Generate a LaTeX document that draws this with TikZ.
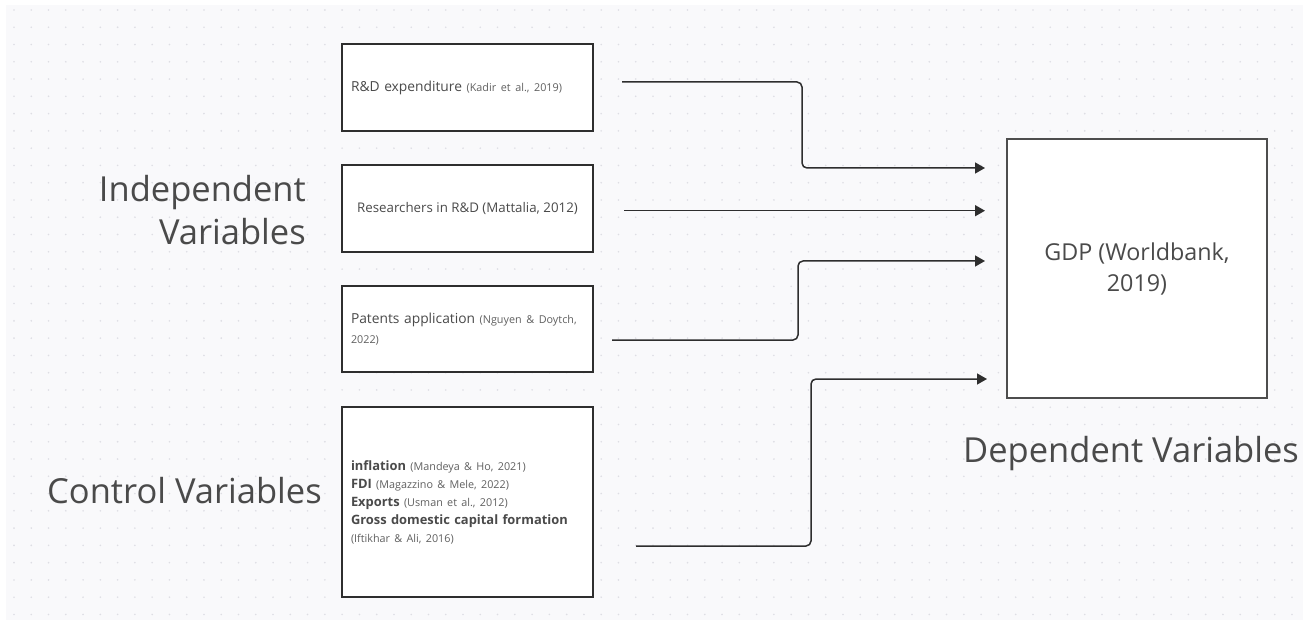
\documentclass[tikz,border=0pt]{standalone}
\usepackage{fontspec}
\setmainfont{Open Sans}
\usetikzlibrary{arrows.meta}
\definecolor{bgc}{HTML}{F9F9FB}
\definecolor{dotc}{HTML}{DEDEE4}
\definecolor{linec}{HTML}{2E2E2E}
\definecolor{txtc}{HTML}{4A4A4A}
\definecolor{boxtxt}{HTML}{4A4A4A}
\definecolor{citc}{HTML}{606060}
\tikzset{
  varbox/.style={draw=linec, line width=1.5pt, fill=white, inner sep=0pt, minimum width=251pt},
  inbox/.style={varbox, text width=233pt, align=left, text=boxtxt, font=\fontsize{13.8}{19.5}\selectfont},
  biglabel/.style={text=txtc, font=\fontsize{34.5}{43}\selectfont, inner sep=0pt},
  conn/.style={draw=linec, line width=1.5pt, rounded corners=5pt, -{Triangle[length=10pt,width=11pt]}},
}
\newcommand{\cit}[1]{{\color{citc}\fontsize{10.8}{19}\selectfont #1}}
\begin{document}
\begin{tikzpicture}[x=1pt,y=-1pt]
\useasboundingbox (0,0) rectangle (1303,620);
\fill[bgc] (6,5) rectangle (1303,620);
\foreach \i in {0,...,74} {
  \foreach \j in {0,...,35} {
    \fill[dotc] (14+17.27*\i, 10+17.27*\j) circle (0.9pt);
  }
}
% boxes
\node[inbox, minimum height=87pt] (b1) at (467.5,87.5) {R\&D expenditure \cit{(Kadir et al., 2019)}};
\node[varbox, minimum height=87pt, text=boxtxt, font=\fontsize{13.3}{19}\selectfont] (b2) at (467.5,208.5) {Researchers in R\&D (Mattalia, 2012)};
\node[inbox, minimum height=86pt] (b3) at (467.5,329) {Patents application \cit{(Nguyen \& Doytch,}\\ \cit{2022)}};
\node[inbox, minimum height=190pt, font=\fontsize{12.9}{18}\selectfont] (b4) at (467.5,502) {\textbf{inflation} \cit{(Mandeya \& Ho, 2021)}\\
\textbf{FDI} \cit{(Magazzino \& Mele, 2022)}\\
\textbf{Exports} \cit{(Usman et al., 2012)}\\
\textbf{Gross domestic capital formation}\\
\cit{(Iftikhar \& Ali, 2016)}};
\node[draw=linec!85, line width=1.8pt, fill=white, minimum width=260pt, minimum height=259pt, inner sep=0pt, align=center, text=txtc, font=\fontsize{23.3}{31}\selectfont] (gdp) at (1137,268.5) {GDP (Worldbank,\\2019)};
% labels
\node[biglabel, align=right, anchor=north east] (indep) at (306,175) {Independent\\Variables};
\node[biglabel, anchor=base west] (ctrl) at (47,503) {Control Variables};
\node[biglabel, anchor=base west] (dep) at (963,462) {Dependent Variables};
% connector ends
\coordinate (s1) at (622,82);
\coordinate (e1) at (985,168);
\coordinate (s2) at (624,210.7);
\coordinate (e2) at (985,210.7);
\coordinate (s3) at (612,340);
\coordinate (e3) at (985,261);
\coordinate (s4) at (636,546);
\coordinate (e4) at (987,379);
\draw[conn] (s1) -- (802,82) -- (802,168) -- (e1);
\draw[conn] (s2) -- (e2);
\draw[conn] (s3) -- (798,340) -- (798,261) -- (e3);
\draw[conn] (s4) -- (811,546) -- (811,379) -- (e4);
\end{tikzpicture}
\end{document}
